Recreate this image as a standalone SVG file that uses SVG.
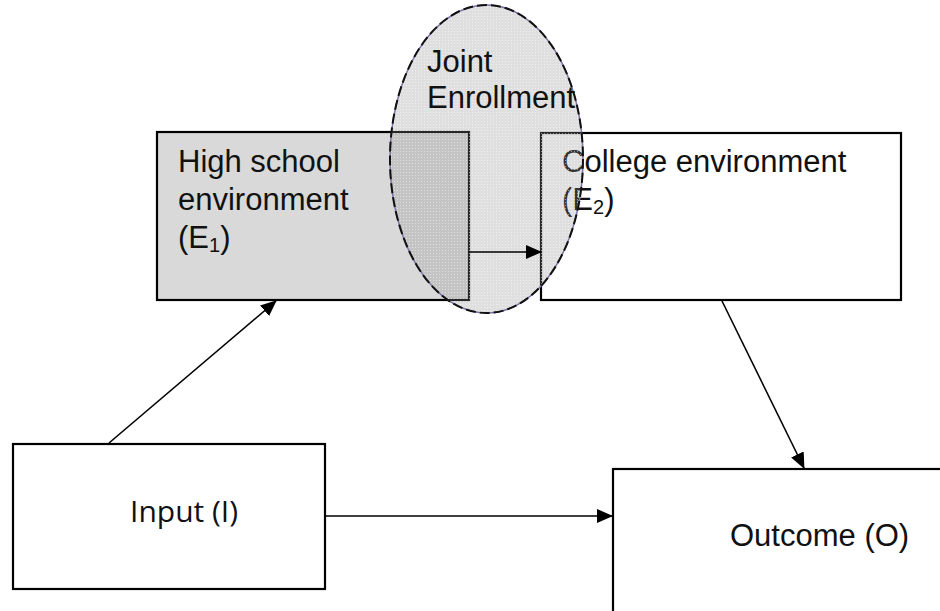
<svg xmlns="http://www.w3.org/2000/svg" width="940" height="611" viewBox="0 0 940 611">
<defs>
<style>
.box{stroke:#000;stroke-width:2.2}
.lbl{font-family:"Liberation Sans",Arial,sans-serif;font-size:31px;fill:#111}
.lbl2{font-family:"Open Sans","Liberation Sans",sans-serif;font-size:30px;fill:#111}
.edge{stroke:#000;stroke-width:1.6;fill:none}
</style>
<marker id="ah" markerUnits="userSpaceOnUse" markerWidth="16" markerHeight="14" refX="15" refY="7" orient="auto">
<path d="M0,0 L16,7 L0,14 Z" fill="#000"/>
</marker>
<pattern id="dots" width="3" height="3" patternUnits="userSpaceOnUse">
<rect width="3" height="3" fill="#8a8a8a" fill-opacity="0.28"/>
<rect x="1" y="1" width="1" height="1" fill="#fff" fill-opacity="0.5"/>
</pattern>
</defs>
<rect width="940" height="611" fill="#fff"/>
<g id="hs">
<rect class="box" x="157" y="132" width="312" height="168" fill="#d9d9d9"/>
<text class="lbl" x="178" y="172">High school</text>
<text class="lbl" x="178" y="210">environment</text>
<text class="lbl" x="178" y="248">(E<tspan font-size="20" dy="4">1</tspan><tspan dy="-4">)</tspan></text>
</g>
<g id="college">
<rect class="box" x="541" y="133" width="360" height="167" fill="#fff"/>
<text class="lbl" x="562" y="172">College environment</text>
<text class="lbl" x="562" y="210">(E<tspan font-size="20" dy="4">2</tspan><tspan dy="-4">)</tspan></text>
</g>
<g id="input">
<rect class="box" x="13" y="444" width="312" height="145" fill="#fff"/>
<text class="lbl2" x="130" y="522">Input (I)</text>
</g>
<g id="outcome">
<rect class="box" x="613" y="469" width="400" height="200" fill="#fff"/>
<text class="lbl" x="730" y="546">Outcome (O)</text>
</g>
<g id="joint">
<ellipse cx="486.5" cy="159" rx="96.5" ry="154" fill="url(#dots)" stroke="#8070a8" stroke-width="1.5"/>
<ellipse cx="486.5" cy="159" rx="96.5" ry="154" fill="none" stroke="#111" stroke-width="2" stroke-dasharray="10 4"/>
<text class="lbl" x="427" y="72">Joint</text>
<text class="lbl" x="427" y="108">Enrollment</text>
</g>
<g id="connectors">
<line class="edge" x1="109" y1="443" x2="276" y2="301" marker-end="url(#ah)"/>
<line class="edge" x1="469" y1="252" x2="541" y2="252" marker-end="url(#ah)"/>
<line class="edge" x1="722" y1="301" x2="804" y2="468" marker-end="url(#ah)"/>
<line class="edge" x1="325" y1="516" x2="612" y2="516" marker-end="url(#ah)"/>
</g>
</svg>
